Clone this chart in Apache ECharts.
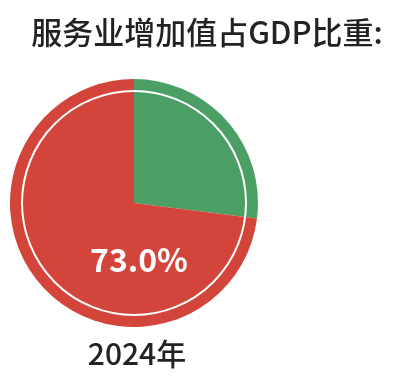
<!DOCTYPE html>
<html><head><meta charset="utf-8">
<script src="https://cdn.jsdelivr.net/npm/echarts@6/dist/echarts.min.js"></script>
<style>html,body{margin:0;padding:0;background:#fff}#c{width:400px;height:379px}</style>
</head><body><div id="c"></div>
<script>
const categories = ['其他', '服务业'];
const values = [27.0, 73.0];
const colors = ['#4c9f64', '#d3443a'];
const year = '2024年';
const chart = echarts.init(document.getElementById('c'));
const font = '"Noto Sans CJK SC", sans-serif';
chart.setOption({
  animation: false,
  title: [
    {text: '服务业增加值占GDP比重:', left: 202, top: 12, textAlign: 'center',
     textStyle: {fontFamily: font, fontSize: 31, fontWeight: 500, color: '#222'}},
    {text: year, left: 132, top: 334, textAlign: 'center',
     textStyle: {fontFamily: font, fontSize: 30, fontWeight: 500, color: '#222'}},
    {text: values[1].toFixed(1) + '%', left: 134, top: 239, textAlign: 'center',
     textStyle: {fontFamily: font, fontSize: 32, fontWeight: 'bold', color: '#fff'}}
  ],
  series: [
    {type: 'pie', radius: 124, center: [134, 203], startAngle: 90, clockwise: true,
     silent: true, label: {show: false}, labelLine: {show: false},
     data: categories.map((n, i) => ({name: n, value: values[i], itemStyle: {color: colors[i]}}))},
    {type: 'pie', radius: 112, center: [134, 203], silent: true, z: 3,
     label: {show: false}, labelLine: {show: false},
     itemStyle: {color: 'rgba(0,0,0,0)', borderColor: '#fff', borderWidth: 2},
     data: [{value: 1, name: 'ring'}]}
  ]
});
</script></body></html>
